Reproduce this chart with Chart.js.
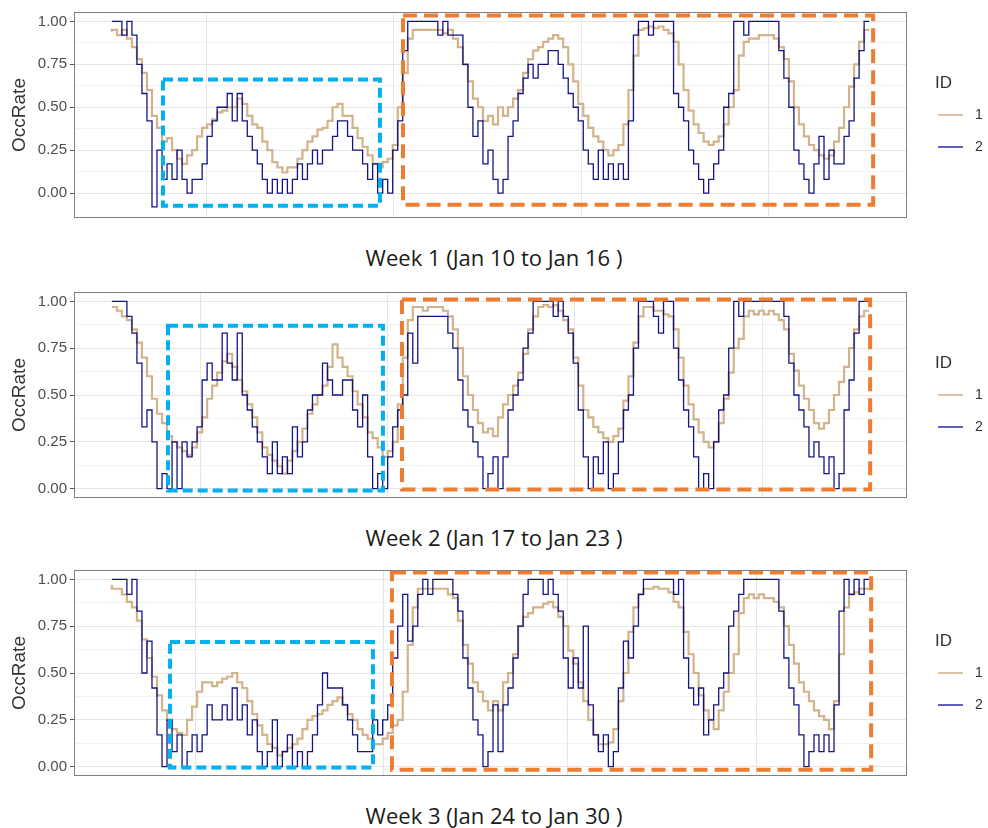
<!DOCTYPE html>
<html><head><meta charset="utf-8">
<script src="https://cdn.jsdelivr.net/npm/chart.js@4.4.1/dist/chart.umd.min.js"></script>
<style>
html,body{margin:0;padding:0;background:#fff;width:988px;height:828px;overflow:hidden;position:relative}
canvas{position:absolute;left:0}
.cap{position:absolute;left:0;width:988px;text-align:center;font-family:"Open Sans",sans-serif;font-size:22px;color:#1a1a1a;line-height:28px;white-space:pre}
</style></head><body>
<canvas id="c0" width="988" height="230" style="top:0px"></canvas>
<canvas id="c1" width="988" height="230" style="top:280px"></canvas>
<canvas id="c2" width="988" height="230" style="top:558px"></canvas>
<div class="cap" style="top:243px">Week 1 (Jan 10 to Jan 16 )</div>
<div class="cap" style="top:523px">Week 2 (Jan 17 to Jan 23 )</div>
<div class="cap" style="top:801px">Week 3 (Jan 24 to Jan 30 )</div>
<script>
// ---- data (OccRate per sample) ----
const seriesIds = ['1', '2'];
const weekTitles = ['Week 1 (Jan 10 to Jan 16 )', 'Week 2 (Jan 17 to Jan 23 )', 'Week 3 (Jan 24 to Jan 30 )'];

const week1Id1 = [0.94,0.95,0.92,0.95,0.90,0.85,0.78,0.70,0.60,0.45,
0.38,0.30,0.32,0.25,0.20,0.17,0.22,0.25,0.33,0.38,
0.40,0.43,0.47,0.48,0.50,0.50,0.55,0.52,0.45,0.40,
0.38,0.30,0.25,0.18,0.15,0.12,0.15,0.15,0.20,0.25,
0.30,0.33,0.37,0.38,0.42,0.50,0.52,0.45,0.45,0.38,
0.32,0.27,0.22,0.17,0.15,0.18,0.20,0.28,0.50,0.70,
0.90,0.95,0.95,0.95,0.95,0.95,0.95,0.93,0.95,0.90,
0.85,0.75,0.65,0.55,0.50,0.42,0.45,0.40,0.50,0.45,
0.50,0.55,0.60,0.70,0.78,0.83,0.85,0.88,0.90,0.92,
0.90,0.85,0.75,0.65,0.52,0.45,0.38,0.33,0.30,0.25,
0.22,0.25,0.28,0.40,0.60,0.80,0.95,0.96,0.97,0.96,
0.97,0.95,0.93,0.88,0.75,0.60,0.48,0.40,0.35,0.30,
0.28,0.30,0.33,0.40,0.50,0.60,0.80,0.88,0.90,0.90,
0.92,0.92,0.92,0.90,0.85,0.78,0.65,0.50,0.40,0.33,
0.28,0.25,0.22,0.20,0.22,0.30,0.38,0.50,0.62,0.75,
0.88,0.95];
const week1Id2 = [1,1,1,0.92,1,0.92,0.75,0.58,0.42,-0.08,
0.25,0.08,0.17,0.08,0.25,0.08,0,0.08,0.08,0.17,
0.33,0.42,0.5,0.5,0.58,0.42,0.58,0.42,0.33,0.25,
0.17,0.08,0,0.08,0,0.08,0,0.08,0.17,0.08,
0.17,0.25,0.17,0.25,0.25,0.33,0.42,0.42,0.33,0.25,
0.25,0.17,0.08,0.17,0,0.08,0,0.25,0.42,0.83,
1,1,1,1,1,1,0.92,1,0.92,0.92,
0.92,0.75,0.5,0.33,0.42,0.17,0.25,0.08,0,0.08,
0.33,0.42,0.58,0.67,0.75,0.67,0.75,0.75,0.83,0.83,
0.75,0.67,0.58,0.5,0.42,0.25,0.17,0.08,0.25,0.08,
0.17,0.08,0.17,0.08,0.42,0.92,1,1,0.92,1,
1,1,1,0.58,0.5,0.42,0.25,0.17,0.08,0,
0.08,0.17,0.25,0.5,0.58,1,1,0.92,1,1,
1,1,1,1,0.83,0.67,0.5,0.25,0.17,0.08,
0,0.17,0.33,0.08,0.25,0.17,0.17,0.33,0.42,0.67,
0.83,1];

const week2Id1 = [0.97,0.97,0.95,0.92,0.90,0.85,0.78,0.70,0.60,0.48,
0.40,0.35,0.28,0.25,0.22,0.20,0.18,0.22,0.30,0.38,
0.48,0.55,0.62,0.68,0.72,0.65,0.58,0.52,0.45,0.38,
0.30,0.22,0.18,0.15,0.12,0.08,0.15,0.20,0.25,0.32,
0.40,0.45,0.50,0.55,0.65,0.77,0.70,0.65,0.60,0.52,
0.45,0.38,0.30,0.27,0.22,0.17,0.20,0.25,0.45,0.70,
0.90,0.97,0.97,0.95,0.97,0.97,0.97,0.95,0.92,0.85,
0.75,0.60,0.50,0.42,0.35,0.30,0.32,0.28,0.38,0.45,
0.50,0.55,0.62,0.72,0.85,0.92,0.97,0.98,0.97,0.98,
0.95,0.90,0.85,0.70,0.55,0.42,0.38,0.33,0.30,0.27,
0.25,0.28,0.32,0.47,0.60,0.78,0.92,0.97,0.97,0.95,
0.95,0.93,0.92,0.85,0.70,0.55,0.45,0.37,0.30,0.25,
0.22,0.25,0.35,0.48,0.62,0.75,0.80,0.92,0.95,0.93,
0.95,0.93,0.95,0.93,0.90,0.85,0.72,0.63,0.55,0.48,
0.42,0.35,0.32,0.35,0.42,0.50,0.57,0.65,0.75,0.85,
0.92,0.95];
const week2Id2 = [1,1,1,1,0.92,0.83,0.67,0.33,0.42,0.25,
0,0.08,0,0.25,0,0.25,0.17,0.25,0.33,0.58,
0.67,0.58,0.58,0.83,0.67,0.58,0.83,0.5,0.42,0.33,
0.25,0.17,0.08,0.25,0.08,0.17,0.08,0.33,0.17,0.25,
0.42,0.5,0.5,0.67,0.58,0.5,0.5,0.58,0.58,0.42,
0.33,0.5,0.17,0,0.08,0,0.17,0.33,0.42,0.5,
0.83,0.67,0.92,0.92,0.92,0.92,0.92,0.92,0.83,0.75,
0.58,0.42,0.33,0.25,0.17,0,0.08,0.17,0,0.17,
0.42,0.5,0.58,0.75,0.83,1,1,1,1,0.92,
1,0.92,0.83,0.67,0.42,0.17,0,0.17,0.08,0.25,
0,0.08,0.25,0.42,0.5,0.75,1,1,1,0.92,
0.83,1,1,0.75,0.58,0.42,0.33,0.17,0,0.08,
0,0.25,0.42,0.5,0.75,1,0.92,1,1,1,
1,1,1,1,1,0.92,0.67,0.5,0.42,0.33,
0.17,0.25,0.17,0.08,0.17,0,0.08,0.42,0.58,0.83,
1,1];

const week3Id1 = [0.97,0.95,0.95,0.92,0.88,0.85,0.78,0.68,0.58,0.48,
0.38,0.30,0.25,0.20,0.18,0.17,0.25,0.32,0.40,0.45,
0.45,0.43,0.45,0.47,0.48,0.50,0.45,0.42,0.35,0.28,
0.22,0.17,0.12,0.10,0.06,0.08,0.10,0.12,0.15,0.20,
0.25,0.27,0.28,0.30,0.33,0.35,0.37,0.33,0.28,0.25,
0.20,0.17,0.15,0.12,0.12,0.15,0.18,0.22,0.25,0.40,
0.65,0.85,0.95,0.95,0.95,0.95,0.95,0.95,0.92,0.90,
0.78,0.65,0.55,0.45,0.40,0.35,0.30,0.35,0.30,0.45,
0.50,0.60,0.75,0.80,0.82,0.85,0.85,0.87,0.88,0.85,
0.80,0.75,0.62,0.55,0.45,0.35,0.25,0.17,0.12,0.12,
0.13,0.20,0.35,0.50,0.72,0.85,0.92,0.95,0.95,0.96,
0.95,0.95,0.93,0.88,0.85,0.72,0.60,0.50,0.38,0.30,
0.25,0.20,0.30,0.40,0.50,0.60,0.82,0.90,0.92,0.90,
0.92,0.90,0.90,0.88,0.85,0.75,0.65,0.55,0.45,0.40,
0.35,0.30,0.27,0.25,0.20,0.35,0.60,0.85,0.92,0.93,
0.95,0.95];
const week3Id2 = [1,1,1,1,0.92,1,0.83,0.5,0.67,0.42,
0.17,0,0.25,0.08,0.17,0,0.08,0.17,0.08,0.17,
0.33,0.25,0.25,0.33,0.25,0.42,0.25,0.33,0.17,0.25,
0.08,0,0.08,0.25,0,0.08,0.17,0,0.08,0,
0.08,0.17,0.33,0.5,0.42,0.42,0.42,0.33,0.25,0.17,
0.08,0.08,0.08,0.25,0.17,0.25,0.33,0.58,0.75,0.92,
0.67,0.75,0.92,1,0.92,1,1,1,1,0.92,
0.83,0.58,0.42,0.25,0.17,0,0.08,0.33,0.08,0.33,
0.42,0.58,0.75,0.92,1,1,1,0.92,1,0.92,
0.83,0.58,0.42,0.58,0.42,0.75,0.33,0.17,0.08,0.17,
0,0.08,0.42,0.67,0.58,0.75,0.92,1,1,1,
1,1,1,0.92,1,0.58,0.42,0.33,0.42,0.17,
0.25,0.33,0.42,0.5,0.75,0.83,0.92,1,1,1,
1,1,1,1,0.83,0.58,0.42,0.33,0.17,0,
0.08,0.17,0.08,0.17,0.08,0.33,0.83,1,0.92,1,
0.92,1];

// axis breaks
const yMajorTicks = [0, 0.25, 0.5, 0.75, 1];
const yMinorTicks = [0.125, 0.375, 0.625, 0.875];
const week1XBreaks = [18.96, 56.25, 93.7, 131.0];
const week2XBreaks = [17.6, 54.9, 92.3, 129.8];
const week3XBreaks = [16.6, 54.1, 90.9, 128.6];

// highlight boxes in data units: [xStart, xEnd, yBottom, yTop]
const week1LowBox = [10.19, 53.45, -0.073, 0.661];
const week1HighBox = [58.05, 151.8, -0.068, 1.034];
const week2LowBox = [11.19, 54.05, -0.01, 0.87];
const week2HighBox = [57.85, 151.2, -0.005, 1.01];
const week3LowBox = [11.6, 52.06, -0.005, 0.665];
const week3HighBox = [55.85, 151.4, -0.016, 1.037];

// ---- layout / style ----
const colors = ['#D2B48C', 'rgba(0,0,125,0.92)'];
const legendColors = ['#D2B48C', '#3a3aa0'];
const panels = [
  {canvas: 'c0', top: 0, height: 230, areaTop: 7, areaBottom: 219, yMin: -0.145, yMax: 1.0545,
   id1: week1Id1, id2: week1Id2, xBreaks: week1XBreaks, low: week1LowBox, high: week1HighBox},
  {canvas: 'c1', top: 280, height: 230, areaTop: 289, areaBottom: 500, yMin: -0.05, yMax: 1.05,
   id1: week2Id1, id2: week2Id2, xBreaks: week2XBreaks, low: week2LowBox, high: week2HighBox},
  {canvas: 'c2', top: 558, height: 230, areaTop: 570, areaBottom: 781, yMin: -0.05, yMax: 1.05,
   id1: week3Id1, id2: week3Id2, xBreaks: week3XBreaks, low: week3LowBox, high: week3HighBox}
];

function isMajor(v) { return yMajorTicks.some(m => Math.abs(m - v) < 1e-9); }

const decoPlugin = {
  id: 'deco',
  afterDatasetsDraw(chart, args, opts) {
    const ctx = chart.ctx, xs = chart.scales.x, ys = chart.scales.y;
    const drawBox = (b, color, dash) => {
      const x0 = xs.getPixelForValue(b[0]), x1 = xs.getPixelForValue(b[1]);
      const y0 = ys.getPixelForValue(b[3]), y1 = ys.getPixelForValue(b[2]);
      ctx.save();
      ctx.strokeStyle = color; ctx.lineWidth = 4; ctx.setLineDash(dash);
      ctx.strokeRect(x0, y0, x1 - x0, y1 - y0);
      ctx.restore();
    };
    drawBox(opts.low, '#00B0F0', [10, 5]);
    drawBox(opts.high, '#ED7D31', [14, 7]);
  },
  afterDraw(chart) {
    const ctx = chart.ctx, a = chart.chartArea;
    ctx.save();
    ctx.strokeStyle = '#7f7f7f'; ctx.lineWidth = 1; ctx.setLineDash([]);
    ctx.strokeRect(Math.round(a.left) + 0.5, Math.round(a.top) + 0.5, Math.round(a.right - a.left) - 1, Math.round(a.bottom - a.top) - 1);
    // legend
    const cy = (a.top + a.bottom) / 2;
    ctx.fillStyle = '#333';
    ctx.textBaseline = 'middle';
    ctx.textAlign = 'left';
    ctx.font = '17px "Liberation Sans", Arial, sans-serif';
    ctx.fillText('ID', 935, cy - 32);
    ctx.font = '14px "Liberation Sans", Arial, sans-serif';
    seriesIds.forEach((id, k) => {
      const y = cy + k * 32;
      ctx.strokeStyle = legendColors[k]; ctx.lineWidth = 1.6;
      ctx.beginPath(); ctx.moveTo(938, y); ctx.lineTo(963, y); ctx.stroke();
      ctx.fillStyle = '#333';
      ctx.fillText(id, 975, y);
    });
    ctx.restore();
  }
};

panels.forEach(p => {
  const ctx = document.getElementById(p.canvas).getContext('2d');
  const toPts = arr => arr.map((v, i) => ({x: i, y: v}));
  const n = p.id1.length - 1;
  new Chart(ctx, {
    type: 'line',
    data: {
      datasets: [
        {label: seriesIds[0], data: toPts(p.id1), borderColor: colors[0], borderWidth: 2.2,
         pointRadius: 0, stepped: 'after', order: 2, fill: false},
        {label: seriesIds[1], data: toPts(p.id2), borderColor: colors[1], borderWidth: 1.3,
         pointRadius: 0, stepped: 'after', order: 1, fill: false}
      ]
    },
    options: {
      responsive: false, animation: false, events: [],
      layout: {padding: {left: 0, right: 81, top: p.areaTop - p.top, bottom: p.top + p.height - p.areaBottom}},
      plugins: {
        legend: {display: false}, tooltip: {enabled: false},
        deco: {low: p.low, high: p.high}
      },
      scales: {
        x: {
          type: 'linear', min: -0.05 * n, max: 1.05 * n,
          afterBuildTicks: s => { s.ticks = p.xBreaks.map(v => ({value: v})); },
          ticks: {display: false},
          grid: {color: '#e6e6e6', lineWidth: 1, drawTicks: false},
          border: {display: false},
          afterFit: s => { s.height = 0; }
        },
        y: {
          type: 'linear', min: p.yMin, max: p.yMax,
          afterBuildTicks: s => {
            s.ticks = yMajorTicks.concat(yMinorTicks).sort((a, b) => a - b).map(v => ({value: v}));
          },
          ticks: {
            callback: v => isMajor(v) ? Number(v).toFixed(2) : '',
            font: {family: '"Liberation Sans", Arial, sans-serif', size: 15},
            color: '#4d4d4d', padding: 3
          },
          grid: {
            color: c => (c.tick && isMajor(c.tick.value)) ? '#e6e6e6' : '#f1f1f1',
            tickColor: c => (c.tick && isMajor(c.tick.value)) ? '#555' : 'rgba(0,0,0,0)',
            tickLength: 4, drawTicks: true, lineWidth: 1
          },
          border: {display: false},
          title: {display: true, text: 'OccRate', color: '#333',
                  font: {family: '"Liberation Sans", Arial, sans-serif', size: 19},
                  padding: {top: 8, bottom: 0}},
          afterFit: s => { s.width = 74; }
        }
      }
    },
    plugins: [decoPlugin]
  });
});
</script>
</body></html>
